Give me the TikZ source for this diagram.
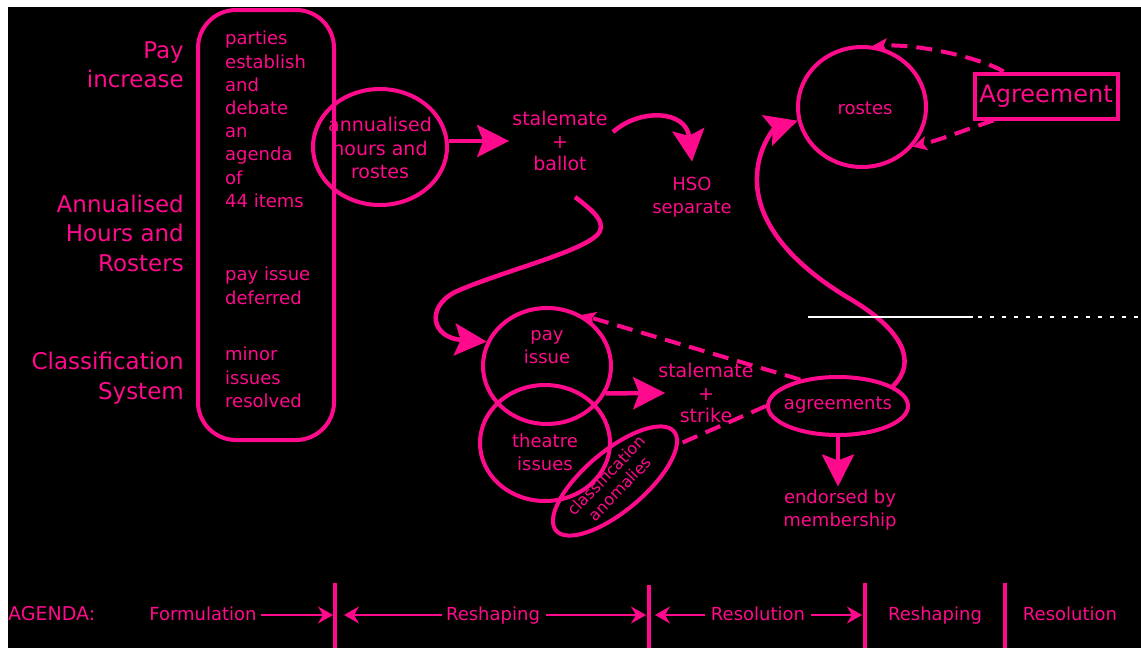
\documentclass[tikz,border=0pt]{standalone}
\usepackage{fontspec}
\setmainfont{DejaVu Sans}
\usetikzlibrary{shapes.geometric,arrows.meta}
\definecolor{pk}{RGB}{255,10,140}
\newcommand\fsz[2]{\fontsize{#1}{#2}\selectfont}
\begin{document}
\begin{tikzpicture}[x=1pt,y=-1pt,
  pkline/.style={draw=pk,line width=4pt},
  pkring/.style={pkline,ellipse,inner sep=0pt},
  conn/.style={draw=pk,line width=4.5pt},
  dconn/.style={draw=pk,line width=4pt,dash pattern=on 16pt off 9pt},
  tlarrow/.style={draw=pk,line width=2.2pt,-smtip},
  bigtxt/.style={text=pk,font=\fsz{23}{29.5},align=right,inner sep=0pt},
  smtxt/.style={text=pk,font=\fsz{18}{23.2},align=center,inner sep=0pt},
  tltxt/.style={text=pk,font=\fsz{18}{22},inner sep=0pt},
  bigtip/.tip={Stealth[length=32pt,width=32pt,inset=6pt]},
  smtip/.tip={Stealth[length=15pt,width=17pt,inset=5pt]},
  dtip/.tip={Stealth[length=14pt,width=14pt,inset=3pt]}]
\useasboundingbox (0,0) rectangle (1141,648);
\fill[white] (0,0) rectangle (1141,648);
\fill[black] (8,7) rectangle (1141,648);

% left labels
\node[bigtxt,anchor=east] (lpay) at (184,65) {Pay\\increase};
\node[bigtxt,anchor=east] (lann) at (184,233) {Annualised\\Hours and\\Rosters};
\node[bigtxt,anchor=east] (lcls) at (184,378) {Classification\\System};

% agenda box
\node[pkline,rounded corners=38pt,minimum width=136pt,minimum height=430pt,inner sep=0pt] (agbox) at (266,225) {};
\node[smtxt,align=left,anchor=north west] (bt1) at (225,31) {parties\\establish\\and\\debate\\an\\agenda\\of\\44 items};
\node[smtxt,align=left,anchor=north west] (bt2) at (225,267) {pay issue\\deferred};
\node[smtxt,align=left,anchor=north west] (bt3) at (225,347) {minor\\issues\\resolved};

% annualised
\node[pkring,minimum width=134pt,minimum height=116pt] (ann) at (380,147) {};
\node[smtxt,font=\fsz{19}{23.5}] (anntxt) at (380,148) {annualised\\hours and\\rostes};

\node[smtxt,font=\fsz{19}{22.5},inner sep=3pt] (stb) at (560,141) {stalemate\\+\\ballot};
\node[smtxt,inner sep=3pt] (hso) at (692,197) {HSO\\separate};

% lower cluster
\node[pkring,minimum width=128pt,minimum height=116pt] (pay) at (547,366) {};
\node[smtxt] (paytxt) at (547,347) {pay\\issue};
\node[pkring,minimum width=130pt,minimum height=116pt] (thr) at (545,443) {};
\node[smtxt] (thrtxt) at (545,452) {theatre\\issues};
\node[pkring,minimum width=154pt,minimum height=60pt,rotate=40] (cls) at (615,481) {};
\node[text=pk,font=\fsz{16}{19},align=center,inner sep=0pt,rotate=46] (clstxt) at (613,482) {classification\\anomalies};

\node[smtxt,font=\fsz{19}{22.5},inner sep=3pt] (sts) at (706,393) {stalemate\\+\\strike};
\node[pkring,minimum width=140pt,minimum height=58pt] (agr) at (838,406) {};
\node[smtxt] (agrtxt) at (838,405) {agreements};
\node[smtxt,inner sep=3pt] (endo) at (840,510) {endorsed by\\membership};

% top right
\node[pkring,minimum width=128pt,minimum height=120pt] (ros) at (862,107) {};
\node[smtxt] (rostxt) at (865,108) {rostes};
\node[pkline,minimum width=143pt,minimum height=45pt,inner sep=0pt,text=pk,font=\fsz{24}{28}] (agm) at (1046,96) {Agreement};

% connectors
\draw[conn,-bigtip] (ann.east |- stb.west) -- (stb.west);
\coordinate (hsoS) at (613,132);
\draw[conn,-bigtip] (hsoS) .. controls (640,108) and (686,110) .. ([yshift=12pt]hso.north);
\coordinate (loopS) at (575,197);
\draw[conn,-bigtip] (loopS) .. controls (592,210) and (610,224) .. (596,236)
  .. controls (575,254) and (500,272) .. (455,292)
  .. controls (425,308) and (432,338) .. (pay.158);
\draw[conn,-bigtip] (pay.-25) -- ([xshift=10pt]sts.west);
\draw[dconn,-dtip] (agr.145) -- (pay.56);
\draw[dconn] (agr.180) -- (cls.-10);
\draw[conn,-bigtip] (agr.south) -- (agr.south |- endo.north);
\draw[conn,-bigtip] (agr.20) .. controls (918,362) and (902,330) .. (852,300)
  .. controls (792,265) and (755,222) .. (757,176)
  .. controls (758,146) and (775,128) .. (ros.192);
\draw[dconn,-dtip] (agm.150) .. controls (985,60) and (925,44) .. (ros.80);
\draw[dconn,-dtip] (agm.205) .. controls (970,128) and (940,140) .. (ros.-38);

% stray white line
\draw[white,line width=1.5pt] (808,317) -- (973,317);
\draw[white,line width=1.5pt,dash pattern=on 4pt off 8pt] (978,317) -- (1141,317);

% timeline
\coordinate (ay) at (0,615);
\node[tltxt,anchor=base west,font=\fsz{19}{22}] (agenda) at (8,620) {AGENDA:};
\node[tltxt,anchor=base] (form) at (203,620) {Formulation};
\node[tltxt,anchor=base] (resh1) at (493,620) {Reshaping};
\node[tltxt,anchor=base] (res1) at (758,620) {Resolution};
\node[tltxt,anchor=base] (resh2) at (935,620) {Reshaping};
\node[tltxt,anchor=base] (res2) at (1070,620) {Resolution};
\coordinate (b1t) at (335,583); \coordinate (b1b) at (335,648);
\coordinate (b2t) at (649,585); \coordinate (b2b) at (649,648);
\coordinate (b3t) at (865,583); \coordinate (b3b) at (865,648);
\coordinate (b4t) at (1005,583); \coordinate (b4b) at (1005,648);
\draw[pkline] (b1t) -- (b1b);
\draw[pkline] (b2t) -- (b2b);
\draw[pkline] (b3t) -- (b3b);
\draw[pkline] (b4t) -- (b4b);
\draw[tlarrow,shorten <=4pt,shorten >=2pt] (form.east |- ay) -- (b1t |- ay);
\draw[tlarrow,shorten <=4pt,shorten >=9pt] (resh1.west |- ay) -- (b1t |- ay);
\draw[tlarrow,shorten <=6pt,shorten >=3pt] (resh1.east |- ay) -- (b2t |- ay);
\draw[tlarrow,shorten <=6pt,shorten >=6pt] (res1.west |- ay) -- (b2t |- ay);
\draw[tlarrow,shorten <=6pt,shorten >=3pt] (res1.east |- ay) -- (b3t |- ay);
\end{tikzpicture}
\end{document}
